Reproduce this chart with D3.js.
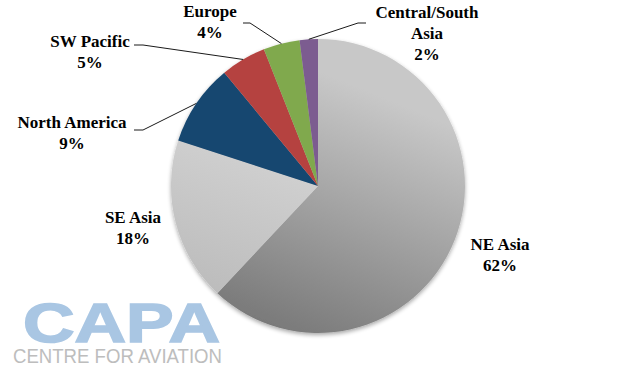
<!DOCTYPE html>
<html><head><meta charset="utf-8">
<script src="https://cdn.jsdelivr.net/npm/d3@7"></script>
<style>
html,body{margin:0;padding:0;background:#fff;}
svg{display:block;}
</style></head>
<body>
<svg id="chart" width="637" height="373"></svg>
<script>
// ---- data ----
const categories = ["NE Asia", "SE Asia", "North America", "SW Pacific", "Europe", "Central/South Asia"];
const values = [62, 18, 9, 5, 4, 2];
const labelLines = [["NE Asia"], ["SE Asia"], ["North America"], ["SW Pacific"], ["Europe"], ["Central/South", "Asia"]];
const colorsTop = ["#c8c8c8", "#dedede", "#16466f", "#b5423f", "#80a94e", "#7c5b90"];
const colorsBottom = ["#666666", "#b2b2b2", "#16466f", "#b5423f", "#80a94e", "#7c5b90"];

// ---- layout ----
const W = 637, H = 373;
const cx = 318, cy = 186, R = 147;
// label centre (x, first baseline) and leader-line elbow (null = no leader)
const labelLayout = [
  {x: 500, y: 250, elbow: null},
  {x: 133, y: 223, elbow: null},
  {x: 72, y: 128, elbow: [[134, 130], [143, 130]]},
  {x: 90, y: 47, elbow: [[134, 45], [143, 45]]},
  {x: 210, y: 17, elbow: [[243, 23], [250, 23]]},
  {x: 427, y: 18, elbow: [[366, 23], [358, 23]]}
];
const lineH = 21;

const svg = d3.select("#chart");
const defs = svg.append("defs");

const shadow = defs.append("filter").attr("id", "shadow")
  .attr("x", "-10%").attr("y", "-10%").attr("width", "120%").attr("height", "120%");
shadow.append("feGaussianBlur").attr("in", "SourceAlpha").attr("stdDeviation", 2);
shadow.append("feOffset").attr("dx", 0).attr("dy", 1.5).attr("result", "b");
shadow.append("feComponentTransfer").append("feFuncA").attr("type", "linear").attr("slope", 0.35);
const m = shadow.append("feMerge");
m.append("feMergeNode");
m.append("feMergeNode").attr("in", "SourceGraphic");

categories.forEach((c, i) => {
  const g = defs.append("linearGradient").attr("id", "grad" + i)
    .attr("gradientUnits", "userSpaceOnUse")
    .attr("x1", cx + 60).attr("y1", cy - R).attr("x2", cx - 60).attr("y2", cy + R);
  g.append("stop").attr("offset", 0).attr("stop-color", colorsTop[i]);
  g.append("stop").attr("offset", 1).attr("stop-color", colorsBottom[i]);
});

const pie = d3.pie().sort(null).value(d => d)(values);
const arc = d3.arc().innerRadius(0).outerRadius(R);

const pg = svg.append("g").attr("transform", `translate(${cx},${cy})`).attr("filter", "url(#shadow)");
pg.selectAll("path").data(pie).join("path")
  .attr("d", arc)
  .attr("fill", (d, i) => `url(#grad${i})`);

// leader lines
const lineGen = d3.line();
pie.forEach((d, i) => {
  const L = labelLayout[i];
  if (!L.elbow) return;
  const a = (d.startAngle + d.endAngle) / 2;
  const end = [cx + R * Math.sin(a), cy - R * Math.cos(a)];
  svg.append("path")
    .attr("d", lineGen([L.elbow[0], L.elbow[1], end]))
    .attr("fill", "none").attr("stroke", "#1a1a1a").attr("stroke-width", 1);
});

// labels
const total = d3.sum(values);
const lg = svg.append("g")
  .attr("font-family", "'Liberation Serif', 'Times New Roman', serif")
  .attr("font-weight", "bold").attr("font-size", 17).attr("fill", "#000")
  .attr("text-anchor", "middle");
categories.forEach((c, i) => {
  const L = labelLayout[i];
  const lines = labelLines[i].concat([Math.round(values[i] / total * 100) + "%"]);
  lines.forEach((t, k) => {
    lg.append("text").attr("x", L.x).attr("y", L.y + k * lineH).text(t);
  });
});

// CAPA logo
const logo = svg.append("g");
logo.append("text").attr("x", 23).attr("y", 342)
  .attr("font-family", "'Liberation Sans', Arial, sans-serif")
  .attr("font-weight", "bold").attr("font-size", 56)
  .attr("textLength", 197).attr("lengthAdjust", "spacingAndGlyphs")
  .attr("fill", "#a9c6e3").attr("stroke", "#a9c6e3").attr("stroke-width", 1.6)
  .text("CAPA");
logo.append("text").attr("x", 13).attr("y", 363)
  .attr("font-family", "'Liberation Sans', Arial, sans-serif")
  .attr("font-weight", "normal").attr("font-size", 20)
  .attr("textLength", 209).attr("lengthAdjust", "spacingAndGlyphs")
  .attr("fill", "#bdbdbd").text("CENTRE FOR AVIATION");
</script>
</body></html>
